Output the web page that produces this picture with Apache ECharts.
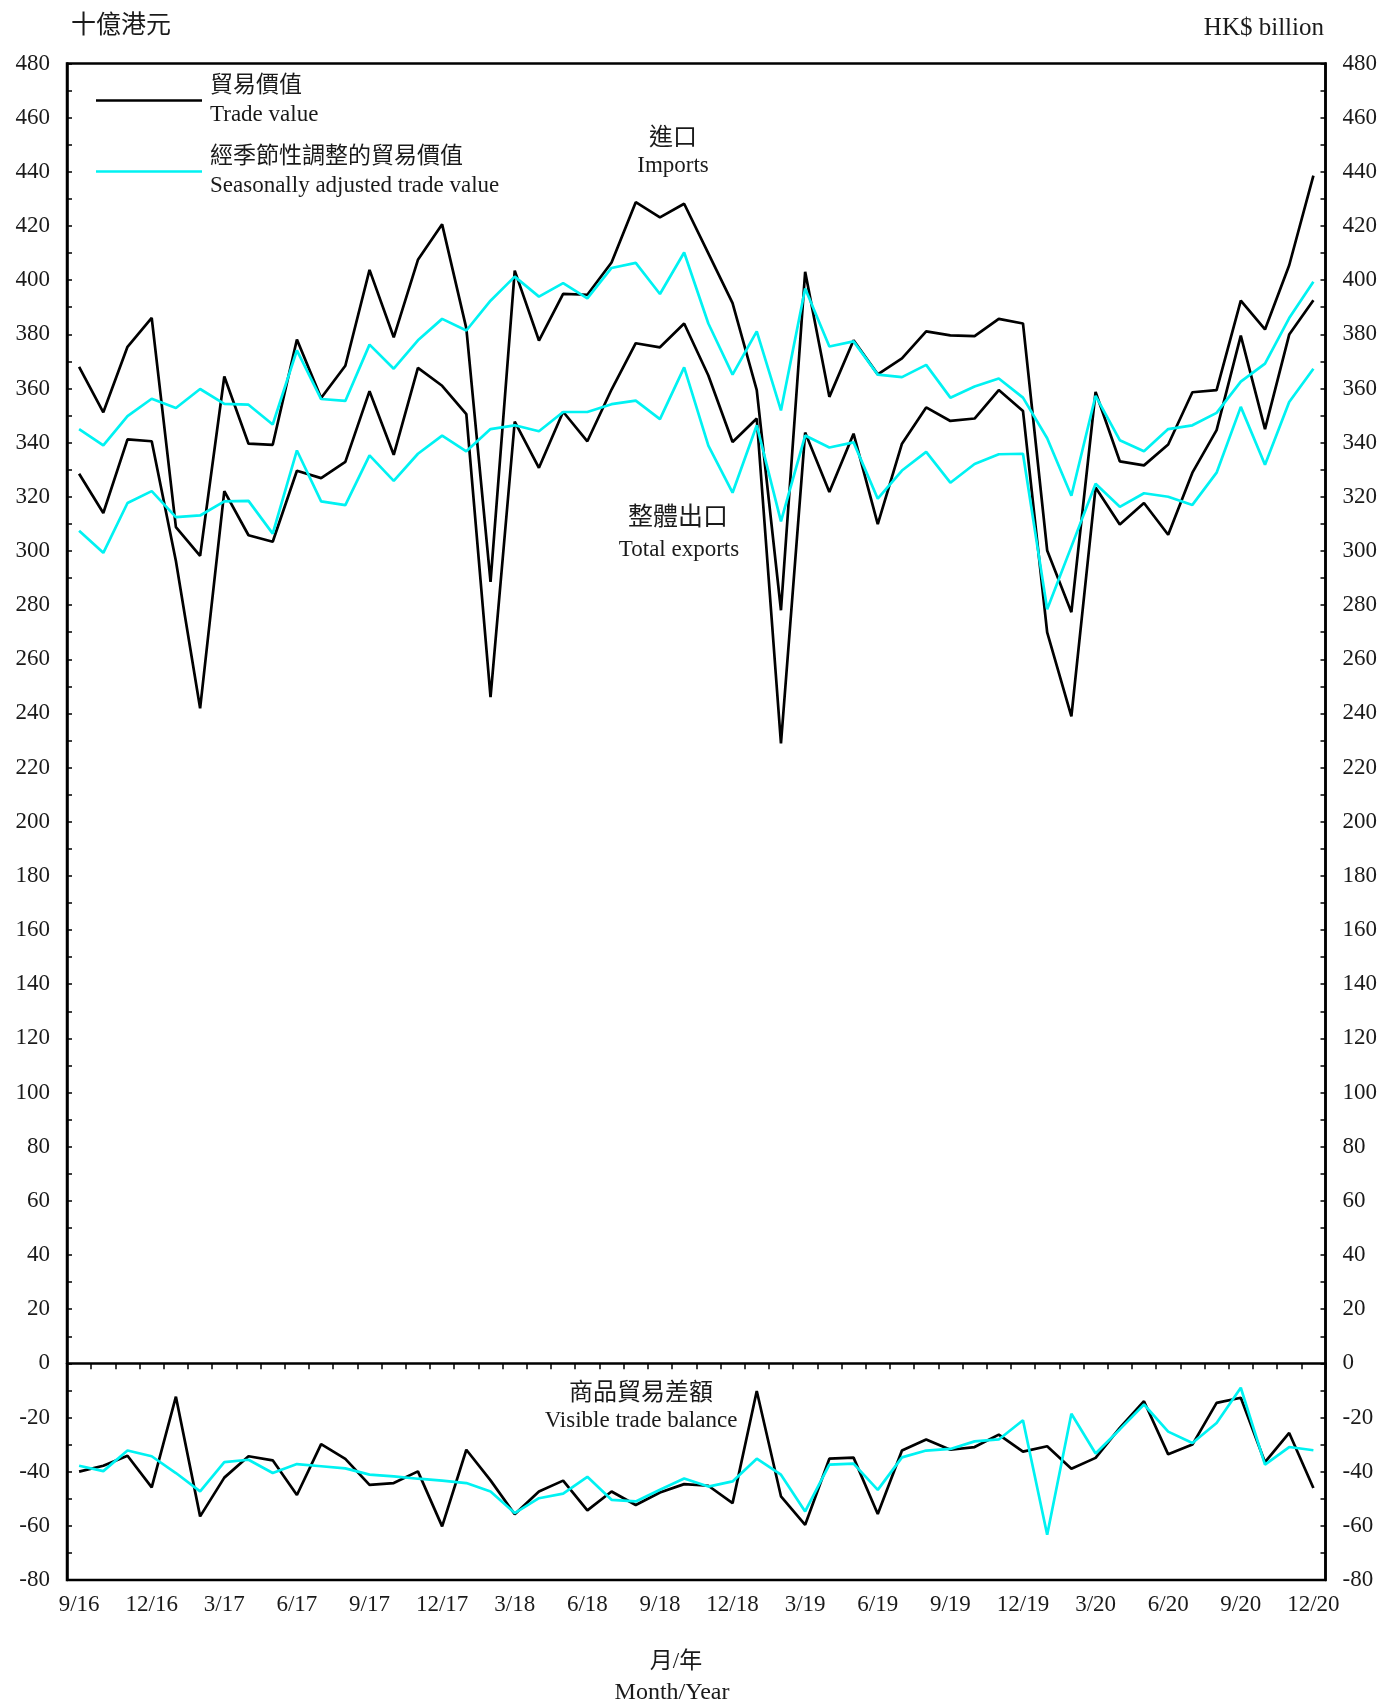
<!DOCTYPE html>
<html>
<head>
<meta charset="utf-8">
<script src="https://cdn.jsdelivr.net/npm/echarts@6/dist/echarts.min.js"></script>
<style>
  html, body { margin: 0; padding: 0; background: #fff; }
  #chart { width: 1386px; height: 1704px; }
</style>
</head>
<body>
<div id="chart"></div>
<script>
// month/year categories, Sep 2016 .. Dec 2020
const months = [
  '9/16', '10/16', '11/16', '12/16',
  '1/17', '2/17', '3/17', '4/17', '5/17', '6/17', '7/17', '8/17', '9/17', '10/17', '11/17', '12/17',
  '1/18', '2/18', '3/18', '4/18', '5/18', '6/18', '7/18', '8/18', '9/18', '10/18', '11/18', '12/18',
  '1/19', '2/19', '3/19', '4/19', '5/19', '6/19', '7/19', '8/19', '9/19', '10/19', '11/19', '12/19',
  '1/20', '2/20', '3/20', '4/20', '5/20', '6/20', '7/20', '8/20', '9/20', '10/20', '11/20', '12/20'
];

// HK$ billion
const imports = [
  368.0, 351.2, 375.4, 386.1,
  308.8, 298.2, 364.4, 339.6, 339.2, 378.1, 356.5, 368.4, 403.8, 378.9, 407.5, 420.6,
  382.2, 288.6, 403.5, 377.7, 394.9, 394.6, 406.5, 428.8, 423.2, 428.2, 409.9, 391.5,
  359.4, 278.1, 403.1, 356.9, 377.8, 365.2, 371.1, 381.1, 379.6, 379.3, 385.7, 384.0,
  300.2, 277.4, 358.7, 333.1, 331.6, 339.3, 358.6, 359.4, 392.4, 381.8, 405.5, 438.6
];
const totalExports = [
  328.5, 314.0, 341.2, 340.5,
  296.3, 241.9, 322.1, 305.8, 303.4, 329.6, 326.9, 332.9, 359.0, 335.5, 367.6, 361.0,
  350.5, 246.0, 347.8, 330.7, 351.4, 340.5, 359.6, 376.7, 375.2, 384.0, 364.8, 340.2,
  348.9, 228.9, 343.7, 321.8, 343.3, 309.9, 339.6, 353.0, 348.0, 348.9, 359.4, 351.7,
  269.9, 238.9, 323.4, 309.8, 317.7, 306.0, 328.9, 344.6, 379.5, 345.0, 379.9, 392.6
];
const balance = [
  -40.0, -37.8, -34.1, -45.8,
  -12.3, -56.5, -42.2, -34.3, -35.8, -48.6, -29.8, -35.3, -44.9, -44.2, -39.9, -60.2,
  -31.9, -43.2, -55.7, -47.3, -43.3, -54.3, -47.3, -52.3, -47.7, -44.6, -45.2, -51.6,
  -10.2, -49.1, -59.6, -35.2, -34.8, -55.6, -32.2, -28.1, -31.9, -30.9, -26.3, -32.6,
  -30.6, -38.9, -34.9, -23.8, -14.0, -33.6, -30.0, -14.6, -12.7, -36.5, -25.7, -46.0
];

// seasonally adjusted
const importsSA = [
  345.0, 339.0, 349.8, 356.2,
  352.8, 359.8, 354.3, 354.0, 346.7, 374.1, 356.1, 355.4, 376.2, 367.3, 377.8, 385.7,
  381.4, 392.4, 401.3, 393.9, 398.9, 393.3, 404.5, 406.4, 394.9, 410.2, 384.0, 365.1,
  381.1, 351.9, 396.9, 375.5, 377.4, 365.1, 364.2, 368.7, 356.6, 360.7, 363.7, 356.6,
  341.6, 320.4, 357.3, 340.9, 336.8, 345.0, 346.4, 351.0, 362.5, 369.2, 386.0, 399.4
];
const exportsSA = [
  307.5, 299.3, 317.7, 322.1,
  312.5, 313.1, 318.3, 318.5, 306.4, 337.1, 318.3, 316.9, 335.3, 325.9, 335.9, 342.6,
  336.8, 345.0, 346.4, 344.2, 351.3, 351.3, 354.2, 355.5, 348.7, 367.8, 338.9, 321.5,
  346.4, 310.9, 342.6, 338.2, 340.1, 319.3, 329.7, 336.6, 325.2, 332.1, 335.7, 335.9,
  278.5, 301.6, 324.8, 316.3, 321.3, 320.0, 317.0, 328.9, 353.2, 331.8, 355.0, 367.3
];
const balanceSA = [
  -37.8, -39.8, -32.2, -34.3,
  -40.5, -47.3, -36.5, -35.6, -40.5, -37.2, -38.0, -38.8, -41.1, -41.7, -42.6, -43.3,
  -44.2, -47.3, -55.3, -49.8, -48.1, -41.9, -50.4, -51.0, -46.7, -42.5, -45.5, -43.6,
  -35.2, -41.1, -54.7, -37.4, -37.0, -46.7, -34.7, -32.2, -31.6, -28.8, -28.1, -21.0,
  -63.3, -18.6, -33.3, -24.4, -15.2, -25.2, -29.4, -22.0, -9.0, -37.4, -30.9, -32.1
];

const RAW_NAME = '貿易價值';
const SA_NAME = '經季節性調整的貿易價值';
const legendText = {
  [RAW_NAME]: '貿易價值\nTrade value',
  [SA_NAME]: '經季節性調整的貿易價值\nSeasonally adjusted trade value',
};

const FONT = '"Liberation Serif", "Times New Roman", "Noto Sans CJK TC", serif';
const TEXT_COLOR = '#1a1a1a';
const BLACK = '#000';
const CYAN = '#00f2f2';

const font = size => `${size}px ${FONT}`;

const label = (text, x, y, size, align = 'center') => ({
  type: 'text',
  x,
  y,
  silent: true,
  style: {
    text,
    font: font(size),
    fill: TEXT_COLOR,
    align,
    verticalAlign: 'middle',
  },
});

const lineSeries = (name, data, color, extra = {}) => ({
  name,
  type: 'line',
  data,
  symbol: 'none',
  silent: true,
  color,
  lineStyle: { color, width: 2.7 },
  itemStyle: { color },
  ...extra,
});

const valueAxis = position => ({
  type: 'value',
  position,
  min: -80,
  max: 480,
  interval: 20,
  axisLine: { show: true, lineStyle: { color: BLACK, width: 2.5 } },
  axisTick: { show: true, inside: true, length: 5, lineStyle: { color: BLACK, width: 1.5 } },
  minorTick: { show: true, splitNumber: 2, length: 5, lineStyle: { color: BLACK, width: 1.5 } },
  splitLine: { show: false },
  minorSplitLine: { show: false },
  axisLabel: {
    margin: 17,
    fontSize: 23,
    fontFamily: FONT,
    color: TEXT_COLOR,
  },
});

const chart = echarts.init(document.getElementById('chart'), null, { renderer: 'canvas' });

chart.setOption({
  animation: false,
  backgroundColor: '#fff',
  grid: {
    left: 67,
    right: 60.5,
    top: 63.5,
    bottom: 124,
    show: true,
    borderColor: BLACK,
    borderWidth: 2.5,
    backgroundColor: 'transparent',
  },
  legend: {
    data: [RAW_NAME, SA_NAME],
    orient: 'vertical',
    left: 91,
    top: 66.5,
    itemWidth: 106,
    itemHeight: 2.6,
    itemGap: 13,
    icon: 'rect',
    selectedMode: false,
    formatter: name => legendText[name],
    textStyle: {
      fontSize: 23,
      lineHeight: 29,
      fontFamily: FONT,
      color: TEXT_COLOR,
      padding: [0, 0, 0, 3],
    },
  },
  xAxis: {
    type: 'category',
    data: months,
    boundaryGap: true,
    axisLine: { show: true, lineStyle: { color: BLACK, width: 2.5 } },
    axisTick: { show: true, interval: 0, length: 6, lineStyle: { color: BLACK, width: 1.5 } },
    axisLabel: {
      interval: 2,
      margin: 13,
      fontSize: 23,
      fontFamily: FONT,
      color: TEXT_COLOR,
    },
    splitLine: { show: false },
  },
  yAxis: [valueAxis('left'), valueAxis('right')],
  series: [
    lineSeries(RAW_NAME, imports, BLACK),
    lineSeries(RAW_NAME, totalExports, BLACK),
    lineSeries(RAW_NAME, balance, BLACK, {
      markLine: {
        silent: true,
        symbol: 'none',
        label: { show: false },
        lineStyle: { color: BLACK, width: 1, type: [9, 3, 2, 3] },
        data: [{ yAxis: 0 }],
      },
    }),
    lineSeries(SA_NAME, importsSA, CYAN),
    lineSeries(SA_NAME, exportsSA, CYAN),
    lineSeries(SA_NAME, balanceSA, CYAN),
  ],
  graphic: [
    label('十億港元', 71, 26, 25, 'left'),
    label('HK$ billion', 1324, 28, 25, 'right'),
    label('進口', 673, 139, 24),
    label('Imports', 673, 166, 23),
    label('整體出口', 678, 518, 25),
    label('Total exports', 679, 550, 23),
    label('商品貿易差額', 641, 1394, 24),
    label('Visible trade balance', 641, 1421, 23),
    label('月/年', 676, 1662, 23),
    label('Month/Year', 672, 1693, 24),
  ],
});
</script>
</body>
</html>
